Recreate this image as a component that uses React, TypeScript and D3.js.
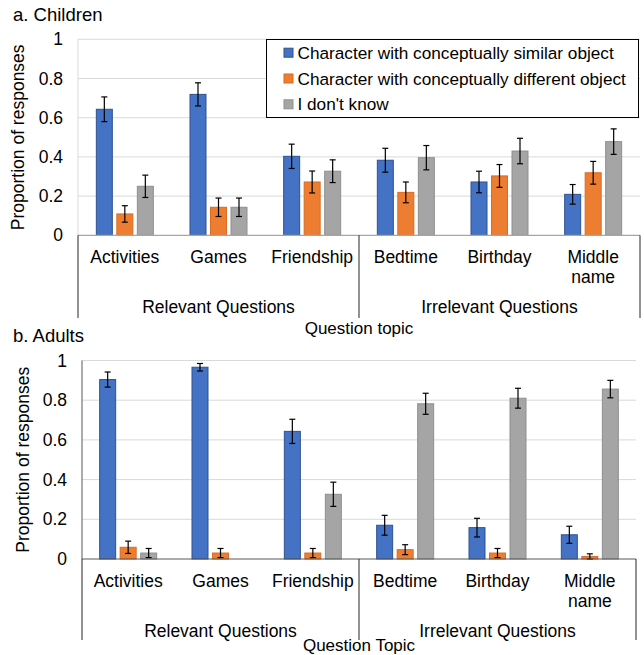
import React, { useEffect, useRef } from "react";
import * as d3 from "d3";

const categories = ["Activities", "Games", "Friendship", "Bedtime", "Birthday", "Middle name"];
const groups = ["Relevant Questions", "Irrelevant Questions"];
const seriesNames = [
  "Character with conceptually similar object",
  "Character with conceptually different object",
  "I don't know",
];
const seriesColors = ["#4472c4", "#ed7d31", "#a5a5a5"];
const seriesStrokes = ["#2f528f", "#d96b22", "#8f8f8f"];
const yTicks = [0, 0.2, 0.4, 0.6, 0.8, 1];

// a. Children
const childSimilar = [0.643, 0.719, 0.403, 0.383, 0.272, 0.209];
const childDifferent = [0.109, 0.143, 0.272, 0.219, 0.303, 0.319];
const childDontKnow = [0.25, 0.143, 0.327, 0.396, 0.43, 0.478];
const childSimilarErr = [0.063, 0.059, 0.062, 0.061, 0.055, 0.05];
const childDifferentErr = [0.042, 0.047, 0.056, 0.053, 0.058, 0.058];
const childDontKnowErr = [0.057, 0.047, 0.058, 0.062, 0.065, 0.065];

// b. Adults
const adultSimilar = [0.904, 0.966, 0.643, 0.17, 0.158, 0.122];
const adultDifferent = [0.059, 0.03, 0.03, 0.047, 0.03, 0.013];
const adultDontKnow = [0.03, 0, 0.326, 0.782, 0.81, 0.856];
const adultSimilarErr = [0.038, 0.019, 0.061, 0.05, 0.047, 0.043];
const adultDifferentErr = [0.031, 0.023, 0.023, 0.025, 0.023, 0.013];
const adultDontKnowErr = [0.023, 0, 0.061, 0.053, 0.05, 0.044];

const FONT = "'Liberation Sans', Arial, sans-serif";

const panels = [
  {
    title: "a. Children",
    axisTitle: "Question topic",
    values: [childSimilar, childDifferent, childDontKnow],
    errors: [childSimilarErr, childDifferentErr, childDontKnowErr],
    legend: true,
    titleY: 20.5,
    top: 39.3,
    bottom: 235.3,
    left: 78,
    right: 640,
    catY: 262.5,
    groupY: 313,
    axisTitleY: 334,
    lineBottom: 318,
    yLabelX: 18,
    axisColor: "#a6a6a6",
    leftColor: "#d9d9d9",
  },
  {
    title: "b. Adults",
    axisTitle: "Question Topic",
    values: [adultSimilar, adultDifferent, adultDontKnow],
    errors: [adultSimilarErr, adultDifferentErr, adultDontKnowErr],
    legend: false,
    titleY: 342,
    top: 360.5,
    bottom: 559,
    left: 82,
    right: 636,
    catY: 586.5,
    groupY: 636.5,
    axisTitleY: 651,
    lineBottom: 640,
    yLabelX: 23,
    axisColor: "#595959",
    leftColor: "#595959",
  },
];

function drawPanel(svg: any, p: any) {
  const g = svg.append("g").attr("font-family", FONT).attr("fill", "#000");

  const y = d3.scaleLinear().domain([0, 1]).range([p.bottom, p.top]);
  const x0 = d3.scaleBand().domain(categories).range([p.left, p.right]).padding(0);
  const x1 = d3
    .scaleBand()
    .domain(seriesNames)
    .range([-28.5, 28.5])
    .paddingInner(0.22)
    .paddingOuter(0);

  g.append("text")
    .attr("x", 13)
    .attr("y", p.titleY)
    .attr("font-size", 18.5)
    .text(p.title);

  // gridlines
  g.selectAll(".grid")
    .data(yTicks.filter((t) => t > 0))
    .join("line")
    .attr("x1", p.left)
    .attr("x2", p.right)
    .attr("y1", (d) => y(d))
    .attr("y2", (d) => y(d))
    .attr("stroke", "#d9d9d9")
    .attr("stroke-width", 1);

  // tick labels
  g.selectAll(".tick")
    .data(yTicks)
    .join("text")
    .attr("x", p.left - 15)
    .attr("y", (d) => y(d) + 6)
    .attr("text-anchor", "end")
    .attr("font-size", 17.5)
    .text((d) => String(d));

  // y axis title
  g.append("text")
    .attr("transform", `translate(${p.yLabelX + 6},${(p.top + p.bottom) / 2}) rotate(-90)`)
    .attr("text-anchor", "middle")
    .attr("font-size", 17.5)
    .text("Proportion of responses");

  // bars
  seriesNames.forEach((s, si) => {
    const vals = p.values[si];
    const errs = p.errors[si];
    const bx = (i: number) => (x0(categories[i]) as number) + x0.bandwidth() / 2 + (x1(s) as number);
    g.selectAll(`.bar${si}`)
      .data(vals)
      .join("rect")
      .attr("x", (d: number, i: number) => bx(i))
      .attr("y", (d: number) => y(d))
      .attr("width", x1.bandwidth())
      .attr("height", (d: number) => Math.max(0, y(0) - y(d)))
      .attr("fill", seriesColors[si])
      .attr("stroke", seriesStrokes[si])
      .attr("stroke-width", 1)
      .attr("display", (d: number) => (d > 0 ? null : "none"));

    const eb = g.append("g").attr("stroke", "#000").attr("stroke-width", 1.2);
    vals.forEach((v: number, i: number) => {
      if (!errs[i]) return;
      const cx = bx(i) + x1.bandwidth() / 2;
      const hi = y(v + errs[i]);
      const lo = y(Math.max(0, v - errs[i]));
      eb.append("line").attr("x1", cx).attr("x2", cx).attr("y1", hi).attr("y2", lo);
      eb.append("line").attr("x1", cx - 3).attr("x2", cx + 3).attr("y1", hi).attr("y2", hi);
      eb.append("line").attr("x1", cx - 3).attr("x2", cx + 3).attr("y1", lo).attr("y2", lo);
    });
  });

  // axes lines
  g.append("line")
    .attr("x1", p.left)
    .attr("x2", p.left)
    .attr("y1", p.top)
    .attr("y2", p.bottom)
    .attr("stroke", p.leftColor);
  g.append("line")
    .attr("x1", p.left)
    .attr("x2", p.right)
    .attr("y1", p.bottom)
    .attr("y2", p.bottom)
    .attr("stroke", p.axisColor)
    .attr("stroke-width", 1.2);

  // group separators
  const sep = [0, 3, 6].map((i) =>
    i < categories.length ? (x0(categories[i]) as number) : p.right
  );
  g.selectAll(".sep")
    .data(sep)
    .join("line")
    .attr("x1", (d) => d)
    .attr("x2", (d) => d)
    .attr("y1", p.bottom)
    .attr("y2", p.lineBottom)
    .attr("stroke", "#262626")
    .attr("stroke-width", 1);

  // category labels
  const cl = g
    .selectAll(".cat")
    .data(categories)
    .join("text")
    .attr("x", (d) => (x0(d) as number) + x0.bandwidth() / 2)
    .attr("y", p.catY)
    .attr("text-anchor", "middle")
    .attr("font-size", 17.5);
  cl.each(function (d: string) {
    const words = d.split(" ");
    const t = d3.select(this);
    words.forEach((w, wi) => {
      t.append("tspan")
        .attr("x", (x0(d) as number) + x0.bandwidth() / 2)
        .attr("dy", wi === 0 ? 0 : 20)
        .text(w);
    });
  });

  // group labels
  g.selectAll(".grp")
    .data(groups)
    .join("text")
    .attr("x", (d, i) => (sep[i] + sep[i + 1]) / 2)
    .attr("y", p.groupY)
    .attr("text-anchor", "middle")
    .attr("font-size", 17.5)
    .text((d) => d);

  g.append("text")
    .attr("x", (p.left + p.right) / 2)
    .attr("y", p.axisTitleY)
    .attr("text-anchor", "middle")
    .attr("font-size", 17)
    .text(p.axisTitle);

  if (p.legend) {
    const lg = g.append("g");
    lg.append("rect")
      .attr("x", 266.5)
      .attr("y", 39.5)
      .attr("width", 372)
      .attr("height", 78)
      .attr("fill", "#fff")
      .attr("stroke", "#000")
      .attr("stroke-width", 1);
    seriesNames.forEach((s, si) => {
      const cy = 52.7 + si * 25.8;
      lg.append("rect")
        .attr("x", 284)
        .attr("y", cy - 4.5)
        .attr("width", 9)
        .attr("height", 9)
        .attr("fill", seriesColors[si])
        .attr("stroke", seriesStrokes[si]);
      lg.append("text")
        .attr("x", 297.5)
        .attr("y", cy + 6)
        .attr("font-size", 17.2)
        .text(s);
    });
  }
}

export default function App() {
  const ref = useRef<SVGSVGElement | null>(null);
  useEffect(() => {
    const svg = d3.select(ref.current);
    svg.selectAll("*").remove();
    panels.forEach((p) => drawPanel(svg, p));
  }, []);
  return (
    <svg
      ref={ref}
      width={644}
      height={655}
      style={{ position: "absolute", left: 0, top: 0, background: "#fff" }}
    />
  );
}
